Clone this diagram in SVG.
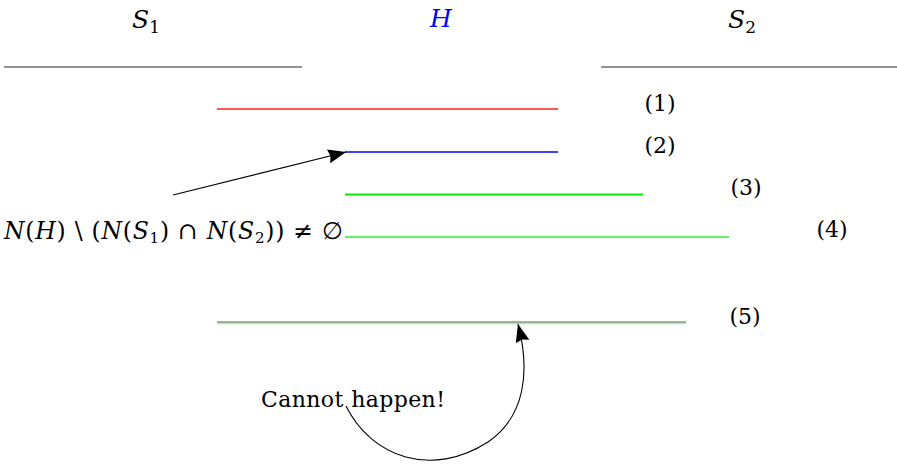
<svg xmlns="http://www.w3.org/2000/svg" width="897" height="465" viewBox="0 0 897 465">
<style>
text{font-family:"DejaVu Serif",serif;font-size:22px;fill:#000}
.it{font-style:italic}
.sub{font-size:15px;font-style:normal}
.title{font-size:25px}
.title .sub{font-size:17px}
.sep{stroke:#6e6e6e;stroke-width:1.5;fill:none}
.conn{stroke:#000;stroke-width:1.1;fill:none}
</style>
<defs>
<marker id="ah" markerUnits="userSpaceOnUse" markerWidth="22" markerHeight="16" refX="18" refY="7" orient="auto">
<path d="M0,0 L18,7 L0,14 L2,7 Z" fill="#000"/>
</marker>
</defs>
<g id="S1">
<text class="title" x="132" y="28"><tspan class="it">S</tspan><tspan class="sub" dy="5">1</tspan></text>
<line class="sep" x1="4" y1="67" x2="302" y2="67"/>
</g>
<g id="H">
<text class="title it" x="441" y="27" text-anchor="middle" style="fill:#0000ff">H</text>
</g>
<g id="S2">
<text class="title" x="728" y="28"><tspan class="it">S</tspan><tspan class="sub" dy="5">2</tspan></text>
<line class="sep" x1="601" y1="67" x2="897" y2="67"/>
</g>
<g id="case1">
<line x1="217" y1="109" x2="558" y2="109" stroke="#ff2020" stroke-width="1.3"/>
<text x="660" y="111" text-anchor="middle">(1)</text>
</g>
<g id="case2">
<line x1="345" y1="152" x2="558" y2="152" stroke="#0000ff" stroke-width="1.3"/>
<text x="660" y="153" text-anchor="middle">(2)</text>
</g>
<g id="case3">
<line x1="345" y1="194.5" x2="643" y2="194.5" stroke="#00ee00" stroke-width="2.2"/>
<text x="746" y="195" text-anchor="middle">(3)</text>
</g>
<g id="case4">
<line x1="345" y1="237" x2="729" y2="237" stroke="#33ee33" stroke-width="1.3"/>
<text x="832" y="237" text-anchor="middle">(4)</text>
</g>
<g id="case5">
<line x1="217" y1="323.2" x2="686" y2="323.2" stroke="#a8eca8" stroke-width="2"/>
<line x1="217" y1="322" x2="686" y2="322" stroke="#8a9a8a" stroke-width="1.6"/>
<text x="745" y="324" text-anchor="middle">(5)</text>
</g>
<g id="condition">
<text x="4" y="239" textLength="339" lengthAdjust="spacing" style="font-size:23.5px"><tspan class="it">N</tspan>(<tspan class="it">H</tspan>) \ (<tspan class="it">N</tspan>(<tspan class="it">S</tspan><tspan class="sub" dy="4">1</tspan><tspan dy="-4">) ∩ </tspan><tspan class="it">N</tspan>(<tspan class="it">S</tspan><tspan class="sub" dy="4">2</tspan><tspan dy="-4">)) ≠ ∅</tspan></text>
</g>
<g id="note">
<text x="261" y="407" textLength="184" lengthAdjust="spacing">Cannot happen!</text>
</g>
<g id="connectors">
<line class="conn" x1="173" y1="195" x2="346" y2="152" marker-end="url(#ah)"/>
<path class="conn" d="M346,406 C372,458 432,478 488,442 C526,416 530,370 518,324" marker-end="url(#ah)"/>
</g>
</svg>
